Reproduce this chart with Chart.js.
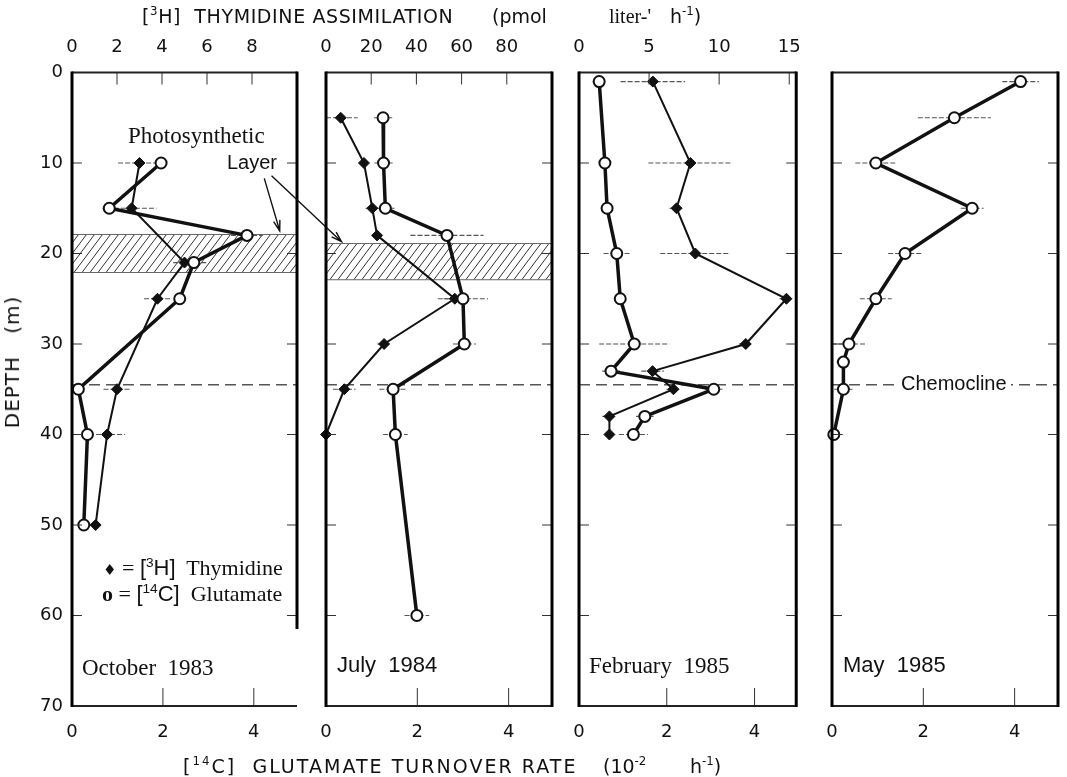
<!DOCTYPE html>
<html>
<head>
<meta charset="utf-8">
<script src="https://cdn.jsdelivr.net/npm/chart.js@4.4.1/dist/chart.umd.min.js"></script>
<style>
  body { margin:0; background:#fff; width:1067px; height:777px; position:relative; overflow:hidden; color:#111; }
  canvas { position:absolute; top:0; }
  .t { position:absolute; white-space:pre; line-height:1; transform:translateY(-50%); z-index:2; }
  .s { font-family:"DejaVu Sans", "Liberation Sans", sans-serif; }
  .h { font-family:"Liberation Sans", Arial, sans-serif; }
  .r { font-family:"Liberation Serif", "Times New Roman", serif; }
  sup { font-size:0.62em; vertical-align:0.6em; line-height:0; }
</style>
</head>
<body>
<canvas id="c1"></canvas>
<canvas id="c2"></canvas>
<canvas id="c3"></canvas>
<canvas id="c4"></canvas>

<div class="t s" data-w="311" style="left:142px;top:16px;font-size:19px">[<sup>3</sup>H]  THYMIDINE ASSIMILATION</div>
<div class="t s" style="left:492px;top:16px;font-size:19px">(pmol</div>
<div class="t r" style="left:609px;top:16px;font-size:20px">liter-'</div>
<div class="t s" style="left:670px;top:16px;font-size:19px">h<sup>-1</sup>)</div>

<div class="t s" data-w="395" style="left:183px;top:766px;font-size:19px">[<sup>14</sup>C]  GLUTAMATE TURNOVER RATE</div>
<div class="t s" style="left:603px;top:766px;font-size:19px">(10<sup>-2</sup></div>
<div class="t s" style="left:690px;top:766px;font-size:19px">h<sup>-1</sup>)</div>

<div class="t s" id="depth" style="left:12px;top:362px;font-size:20px;letter-spacing:1px;transform:translate(-50%,-50%) rotate(-90deg)">DEPTH   (m)</div>

<div class="t r" style="left:128px;top:135px;font-size:23px">Photosynthetic</div>
<div class="t h" style="left:227px;top:162px;font-size:20px">Layer</div>

<div class="t" style="left:103px;top:568px;font-size:22px"><span class="s" style="font-size:15px">&#9830;</span><span class="r"> = </span><span class="h">[<sup>3</sup>H]</span><span class="r">  Thymidine</span></div>
<div class="t" style="left:102px;top:594px;font-size:22px"><span class="r" style="font-weight:bold">o</span><span class="r"> = </span><span class="h">[<sup>14</sup>C]</span><span class="r">  Glutamate</span></div>

<div class="t r" style="left:82px;top:667px;font-size:23px">October  1983</div>
<div class="t h" style="left:337px;top:665px;font-size:22px">July  1984</div>
<div class="t r" style="left:589px;top:665px;font-size:23px">February  1985</div>
<div class="t h" style="left:843px;top:665px;font-size:22px">May  1985</div>

<div class="t h" style="left:897px;top:383px;font-size:20px;background:#fff;padding:0 4px">Chemocline</div>

<script>
// October 1983
const octThyDepth = [10, 15, 21, 25, 35, 40, 50];
const octThy      = [3.0, 2.65, 5.0, 3.8, 2.0, 1.56, 1.05];
const octThyErr   = [0.95, 1.1, 0.5, 0.6, 0.6, 0.8, 0];
const octGluDepth = [10, 15, 18, 21, 25, 35, 40, 50];
const octGlu      = [1.96, 0.82, 3.85, 2.68, 2.37, 0.14, 0.34, 0.26];
const octGluErr   = [0, 0.15, 0.35, 0.3, 0.1, 0, 0, 0];
const octBand     = [17.9, 22.1];

// July 1984
const julThyDepth = [5, 10, 15, 18, 25, 30, 35, 40];
const julThy      = [6.5, 16.8, 20.5, 22.6, 57, 25.7, 8.1, 0];
const julThyErr   = [7.5, 0, 3, 0, 5, 3, 5, 4];
const julGluDepth = [5, 10, 15, 18, 25, 30, 35, 40, 60];
const julGlu      = [1.25, 1.26, 1.30, 2.65, 3.0, 3.03, 1.47, 1.52, 1.99];
const julGluErr   = [0.2, 0.2, 0.2, 0.8, 0.55, 0.25, 0.3, 0.27, 0.27];
const julBand     = [18.9, 22.9];

// February 1985
const febDepth  = [1, 10, 15, 20, 25, 30, 33, 35, 38, 40];
const febThy    = [5.27, 7.95, 6.96, 8.3, 14.8, 11.9, 5.25, 6.74, 2.17, 2.17];
const febThyErr = [2.3, 3.0, 0.5, 2.5, 0.5, 0.5, 0.8, 0.5, 0.5, 0];
const febGlu    = [0.46, 0.59, 0.64, 0.86, 0.94, 1.26, 0.73, 3.07, 1.50, 1.24];
const febGluErr = [0.15, 0, 0, 0.3, 0, 0.8, 0.2, 0.2, 0.2, 0.33];

// May 1985
const mayDepth  = [1, 5, 10, 15, 20, 25, 30, 32, 35, 40];
const mayGlu    = [4.13, 2.68, 0.96, 3.07, 1.60, 0.96, 0.37, 0.25, 0.25, 0.04];
const mayGluErr = [0.4, 0.8, 0.45, 0.25, 0.37, 0.35, 0.4, 0.15, 0.2, 0.2];

const chemoclineDepth = 34.5;
const depthTicks = [0, 10, 20, 30, 40, 50, 60, 70];
const gluTicks = [0, 2, 4];

// arrows from "Layer" to the bands, in October panel units (glutamate, depth)
const layerArrows = [
  [4.23, 11.7, 4.57, 17.5],
  [4.39, 11.4, 5.93, 18.7]
];

function pts(xs, ds) {
  return xs.map((v, i) => ({ x: v, y: ds[i] }));
}

const decor = {
  id: 'decor',
  beforeDatasetsDraw(chart, args, o) {
    const { ctx, chartArea: a, scales } = chart;
    const y = scales.y;
    ctx.save();
    if (o.band) {
      const yt = y.getPixelForValue(o.band[0]);
      const yb = y.getPixelForValue(o.band[1]);
      const h = yb - yt;
      ctx.save();
      ctx.beginPath();
      ctx.rect(a.left, yt, a.right - a.left, h);
      ctx.clip();
      ctx.strokeStyle = '#333';
      ctx.lineWidth = 1;
      ctx.beginPath();
      for (let k = a.left - h; k < a.right + 2; k += 8) {
        ctx.moveTo(k, yb);
        ctx.lineTo(k + h * 0.75, yt);
      }
      ctx.stroke();
      ctx.restore();
      ctx.strokeStyle = '#666';
      ctx.lineWidth = 1;
      ctx.beginPath();
      ctx.moveTo(a.left, yt); ctx.lineTo(a.right, yt);
      ctx.moveTo(a.left, yb); ctx.lineTo(a.right, yb);
      ctx.stroke();
    }
    // chemocline
    const yc = y.getPixelForValue(chemoclineDepth);
    ctx.strokeStyle = '#555';
    ctx.lineWidth = 1.3;
    ctx.setLineDash([11, 6]);
    ctx.beginPath();
    ctx.moveTo(a.left, yc); ctx.lineTo(a.right, yc);
    ctx.stroke();
    // error bars
    ctx.setLineDash([5, 2]);
    ctx.strokeStyle = '#555';
    ctx.lineWidth = 1.2;
    chart.data.datasets.forEach((ds, i) => {
      if (!ds.err) return;
      const xs = scales[ds.xAxisID];
      ctx.beginPath();
      ds.data.forEach((p, j) => {
        const e = ds.err[j];
        if (!e) return;
        const py = y.getPixelForValue(p.y);
        ctx.moveTo(Math.max(a.left, xs.getPixelForValue(p.x - e)), py);
        ctx.lineTo(Math.min(a.right, xs.getPixelForValue(p.x + e)), py);
      });
      ctx.stroke();
    });
    ctx.restore();
  },
  afterDatasetsDraw(chart, args, o) {
    const { ctx, chartArea: a, scales } = chart;
    const y = scales.y, x = scales.x, x2 = scales.x2;
    ctx.save();
    ctx.strokeStyle = '#333';
    ctx.lineWidth = 1;
    ctx.beginPath();
    depthTicks.forEach(d => {
      if (d === 0 || d === 70) return;
      const py = y.getPixelForValue(d);
      ctx.moveTo(a.left, py); ctx.lineTo(a.left + 10, py);
      ctx.moveTo(a.right - 10, py); ctx.lineTo(a.right, py);
    });
    gluTicks.forEach(v => {
      if (v === 0) return;
      const px = x.getPixelForValue(v);
      ctx.moveTo(px, a.bottom); ctx.lineTo(px, a.bottom - 18);
    });
    if (o.topTicks) {
      o.topTicks.forEach(v => {
        const px = x2.getPixelForValue(v);
        ctx.moveTo(px, a.top); ctx.lineTo(px, a.top + 12);
      });
    }
    ctx.stroke();
    // frame
    ctx.strokeStyle = '#222';
    ctx.lineWidth = 2;
    ctx.beginPath();
    ctx.moveTo(a.left, a.top); ctx.lineTo(a.right, a.top);
    ctx.moveTo(a.left, a.bottom); ctx.lineTo(a.right, a.bottom);
    ctx.stroke();
    ctx.strokeStyle = '#000';
    ctx.lineWidth = 3;
    ctx.beginPath();
    ctx.moveTo(a.left, a.top - 1); ctx.lineTo(a.left, a.bottom + 1);
    ctx.moveTo(a.right, a.top - 1);
    ctx.lineTo(a.right, o.rightTo != null ? y.getPixelForValue(o.rightTo) : a.bottom + 1);
    ctx.stroke();
    // arrows
    if (o.arrows) {
      ctx.strokeStyle = '#111';
      ctx.lineWidth = 1.4;
      o.arrows.forEach(([x0, d0, x1, d1]) => {
        const sx = x.getPixelForValue(x0), sy = y.getPixelForValue(d0);
        const ex = x.getPixelForValue(x1), ey = y.getPixelForValue(d1);
        const ang = Math.atan2(ey - sy, ex - sx);
        ctx.beginPath();
        ctx.moveTo(sx, sy); ctx.lineTo(ex, ey);
        ctx.moveTo(ex - 11 * Math.cos(ang - 0.3), ey - 11 * Math.sin(ang - 0.3));
        ctx.lineTo(ex, ey);
        ctx.lineTo(ex - 11 * Math.cos(ang + 0.3), ey - 11 * Math.sin(ang + 0.3));
        ctx.stroke();
      });
    }
    ctx.restore();
  }
};

const tickFont = { family: 'DejaVu Sans', size: 18 };

function makePanel(p) {
  const cv = document.getElementById(p.id);
  const w = p.right - p.left;
  const cw = 70 + w + p.extraRight;
  cv.width = cw;
  cv.height = 777;
  cv.style.left = (p.left - 70) + 'px';

  const datasets = [{
    label: 'Glutamate',
    data: pts(p.glu, p.gluDepth),
    err: p.gluErr,
    xAxisID: 'x',
    yAxisID: 'y',
    showLine: true,
    clip: false,
    borderColor: '#111',
    borderWidth: 3.5,
    pointStyle: 'circle',
    pointRadius: 5.5,
    pointBackgroundColor: '#fff',
    pointBorderColor: '#111',
    pointBorderWidth: 2
  }];
  if (p.thy) {
    datasets.push({
      label: 'Thymidine',
      data: pts(p.thy, p.thyDepth),
      err: p.thyErr,
      xAxisID: 'x2',
      yAxisID: 'y',
      showLine: true,
      clip: false,
      borderColor: '#111',
      borderWidth: 2,
      pointStyle: 'rectRot',
      pointRadius: 5.5,
      pointBackgroundColor: '#111',
      pointBorderColor: '#111',
      pointBorderWidth: 1
    });
  }

  new Chart(cv, {
    type: 'scatter',
    data: { datasets },
    options: {
      responsive: false,
      animation: false,
      events: [],
      layout: { padding: { left: 0, right: p.extraRight, top: 0, bottom: 0 } },
      plugins: {
        legend: { display: false },
        tooltip: { enabled: false },
        decor: { band: p.band, topTicks: p.topTicks, rightTo: p.rightTo, arrows: p.arrows }
      },
      scales: {
        y: {
          type: 'linear', position: 'left', reverse: true, min: 0, max: 70,
          afterFit: s => { s.width = 70; },
          grid: { display: false, drawTicks: false },
          border: { display: false },
          ticks: { display: p.yLabels, stepSize: 10, padding: 9, color: '#111', font: tickFont }
        },
        x: {
          type: 'linear', position: 'bottom', min: 0, max: 4.95,
          afterFit: s => { s.height = 71; },
          grid: { display: false, drawTicks: false },
          border: { display: false },
          afterBuildTicks: s => { s.ticks = gluTicks.map(v => ({ value: v })); },
          ticks: { padding: 16, color: '#111', font: tickFont, maxRotation: 0, autoSkip: false }
        },
        x2: {
          type: 'linear', position: 'top', min: 0, max: p.thyMax,
          afterFit: s => { s.height = 72.5; },
          grid: { display: false, drawTicks: false },
          border: { display: false },
          afterBuildTicks: s => { s.ticks = (p.topLabels || []).map(v => ({ value: v })); },
          ticks: { display: !!p.topLabels, padding: 14, color: '#111', font: tickFont, maxRotation: 0, autoSkip: false }
        }
      }
    },
    plugins: [decor]
  });
}

makePanel({
  id: 'c1', left: 72, right: 297, extraRight: 60, yLabels: true,
  thyMax: 10, topLabels: [0, 2, 4, 6, 8], topTicks: [2, 4, 6, 8],
  thy: octThy, thyDepth: octThyDepth, thyErr: octThyErr,
  glu: octGlu, gluDepth: octGluDepth, gluErr: octGluErr,
  band: octBand, rightTo: 61.5, arrows: layerArrows
});
makePanel({
  id: 'c2', left: 326, right: 552, extraRight: 10, yLabels: false,
  thyMax: 100, topLabels: [0, 20, 40, 60, 80], topTicks: [20, 40, 60, 80],
  thy: julThy, thyDepth: julThyDepth, thyErr: julThyErr,
  glu: julGlu, gluDepth: julGluDepth, gluErr: julGluErr,
  band: julBand
});
makePanel({
  id: 'c3', left: 579, right: 805, extraRight: 10, yLabels: false,
  thyMax: 15.5, topLabels: [0, 5, 10, 15], topTicks: [5, 10, 15],
  thy: febThy, thyDepth: febDepth, thyErr: febThyErr,
  glu: febGlu, gluDepth: febDepth, gluErr: febGluErr
});
makePanel({
  id: 'c4', left: 832, right: 1058, extraRight: 8, yLabels: false,
  thyMax: 10, topLabels: null,
  glu: mayGlu, gluDepth: mayDepth, gluErr: mayGluErr
});

// stretch the spaced-out titles to the widths they have in the figure
document.querySelectorAll('[data-w]').forEach(el => {
  const target = +el.dataset.w;
  const n = el.textContent.length;
  const w = el.offsetWidth;
  el.style.letterSpacing = ((target - w) / n) + 'px';
});
</script>
</body>
</html>
